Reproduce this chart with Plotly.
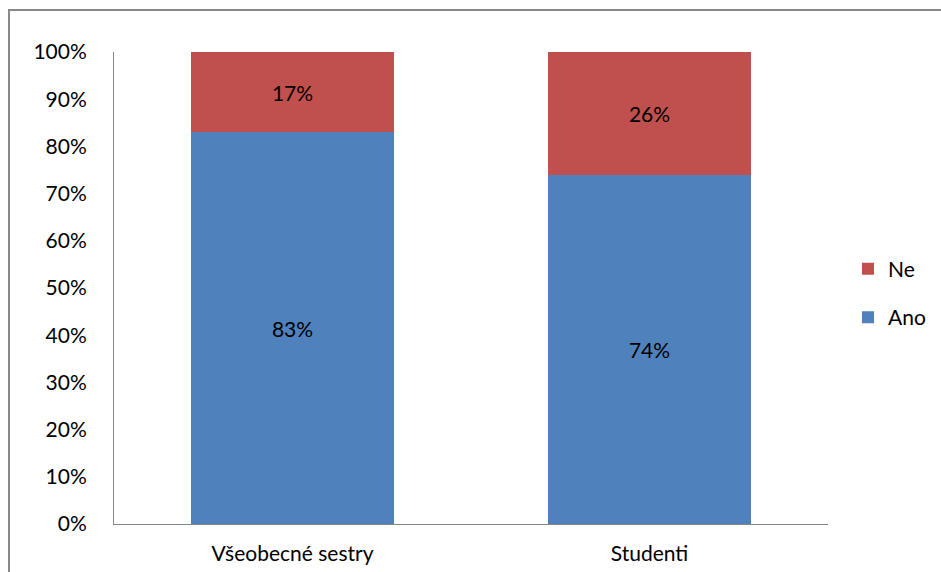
import plotly.graph_objects as go

categories = ["Všeobecné sestry", "Studenti"]
ano_values = [83, 74]
ne_values = [17, 26]
series_names = ["Ano", "Ne"]
colors = ["#4F81BD", "#C0504D"]

L, R, T, B = 114, 113, 52, 48
W, H = 941, 572
pw, ph = W - L - R, H - T - B

fig = go.Figure()
for name, vals, col, grp, rank in [(series_names[0], ano_values, colors[0], "a", 2),
                                   (series_names[1], ne_values, colors[1], "b", 1)]:
    fig.add_trace(go.Bar(
        x=categories, y=vals, name=name, marker_color=col, marker_line_width=0,
        text=[f"{v}%" for v in vals], textposition="inside", insidetextanchor="middle",
        textfont=dict(color="black", size=21, family="Lato"),
        legendgroup=grp, legendrank=rank, hoverinfo="skip"
    ))

fig.update_layout(
    barmode="stack", bargap=0.43,
    width=W, height=H,
    margin=dict(l=L, r=R, t=T, b=B, autoexpand=False),
    paper_bgcolor="white", plot_bgcolor="white",
    font=dict(family="Lato", size=21, color="black"),
    uniformtext=dict(mode="show", minsize=21),
    legend=dict(x=1.028, xanchor="left", y=0.489, yanchor="middle",
                traceorder="grouped", tracegroupgap=18,
                font=dict(size=21, family="Lato"), itemclick=False),
    xaxis=dict(showline=True, linecolor="#868686", linewidth=1, showgrid=False,
               ticks="", ticklabelstandoff=11, tickfont=dict(size=21), automargin=False),
    yaxis=dict(range=[0, 100], dtick=10, ticksuffix="%", showline=True,
               linecolor="#868686", linewidth=1, showgrid=False, zeroline=False,
               ticks="", ticklabelstandoff=22, tickfont=dict(size=21), automargin=False),
    shapes=[dict(type="rect", xref="paper", yref="paper",
                 x0=(9 - L) / pw, x1=(W + 40 - L) / pw,
                 y0=-(60) / ph, y1=(H - B - 10) / ph,
                 line=dict(color="#888888", width=2), fillcolor="rgba(0,0,0,0)",
                 layer="below")],
)

fig.write_html("out.html")
